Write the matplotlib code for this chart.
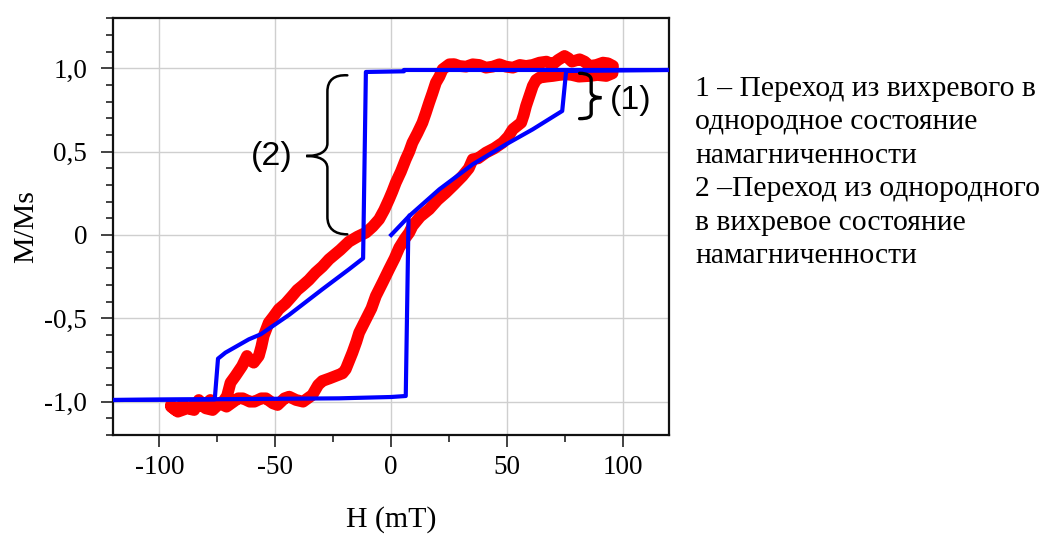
import matplotlib
matplotlib.use("Agg")
import matplotlib.pyplot as plt
from matplotlib.path import Path
from matplotlib.patches import PathPatch
from matplotlib.ticker import FixedLocator, FixedFormatter, MultipleLocator

# ---------------- data ----------------
# measured loop (red), ascending branch then descending branch
red_up_h = [-95, -92, -88, -85, -83, -80, -77, -74, -71, -69, -66, -64, -61, -59, -56, -54,
            -51, -49, -46, -44, -41, -38, -36, -34, -31.5, -29.7, -26.5, -23.9, -21, -19.6,
            -16.7, -15, -13.8, -10.9, -8.5, -6.6, -3.5, -0.9, 1.5, 3.5, 6, 7.8, 9.2, 12.5,
            16.4, 20, 23.6, 27, 30.8, 33.5, 35.2, 37.5, 40.9, 44.5, 48.1, 50.5, 52.5, 56.1,
            57.2, 58.2, 59.8, 61.1, 62.5, 64.0, 67, 69.7, 72.5, 75.5, 78, 81, 85.6, 89, 92.8, 95.5]
red_up_m = [-1.03, -1.06, -1.04, -1.05, -0.99, -1.04, -1.05, -1.01, -1.03, -1.01, -0.98, -0.98,
            -1.00, -1.00, -0.98, -0.98, -1.01, -1.02, -0.98, -0.97, -0.99, -1.00, -0.98, -0.96,
            -0.90, -0.876, -0.86, -0.846, -0.83, -0.806, -0.706, -0.64, -0.586, -0.506, -0.44,
            -0.366, -0.28, -0.206, -0.14, -0.076, -0.02, 0.014, 0.054, 0.11, 0.154, 0.21, 0.254,
            0.30, 0.354, 0.40, 0.454, 0.46, 0.494, 0.52, 0.554, 0.59, 0.634, 0.674, 0.72, 0.774,
            0.84, 0.894, 0.93, 0.944, 0.95, 0.954, 0.96, 0.964, 0.96, 0.95, 0.954, 0.96, 0.954, 0.97]
red_dn_h = [95.7, 93.5, 91.4, 88.5, 85.6, 83.5, 81.3, 78, 76.5, 74.8, 72, 69.7, 67, 64.0, 61,
            58.2, 55.5, 52.5, 49.5, 46.7, 43.8, 40.9, 38, 35.2, 32.3, 29.4, 27.2, 25.1, 22.2,
            20.8, 19.3, 17.8, 16.4, 14.9, 13.5, 11.3, 9.2, 7.8, 6.3, 4.2, 2.0, 0.5, -0.9, -3,
            -5.2, -8, -10.9, -14.5, -18.2, -22, -26.8, -29.7, -32.6, -35.5, -38.4, -40.5, -42.7,
            -45.5, -48.5, -50.8, -52.8, -55.0, -56, -57.1, -59.3, -61, -62.2, -64.3, -67.2,
            -69.3, -70.8, -72.5, -75, -78, -81, -84, -87, -90, -93, -95]
red_dn_m = [1.014, 1.03, 1.034, 1.02, 1.014, 1.04, 1.054, 1.04, 1.06, 1.074, 1.05, 1.024, 1.04,
            1.034, 1.02, 1.014, 1.02, 1.004, 1.01, 1.024, 1.01, 1.004, 1.02, 1.024, 1.01, 1.014,
            1.025, 1.024, 0.994, 0.95, 0.914, 0.85, 0.794, 0.73, 0.674, 0.61, 0.554, 0.50, 0.454,
            0.38, 0.314, 0.26, 0.214, 0.15, 0.094, 0.05, 0.014, -0.01, -0.04, -0.09, -0.146,
            -0.19, -0.226, -0.27, -0.306, -0.33, -0.366, -0.41, -0.446, -0.49, -0.526, -0.606,
            -0.67, -0.726, -0.766, -0.75, -0.726, -0.786, -0.846, -0.886, -0.966, -1.0, -1.02,
            -0.99, -1.03, -1.01, -1.04, -1.02, -1.05, -1.02]

# simulated loop (blue)
blue_dn_h = [120, 5.5, 5.5, -10.9, -12.1, -18.2, -29.7, -44.1, -56.3, -61.4, -71.5, -74.7, -76.1, -120]
blue_dn_m = [0.99, 0.99, 0.982, 0.978, -0.14, -0.206, -0.326, -0.48, -0.596, -0.626, -0.706, -0.742, -0.986, -0.99]
blue_up_h = [-120, -22.5, 0, 6.3, 7.5, 7.8, 20.8, 35.2, 49.6, 61.1, 73.8, 75.5, 120]
blue_up_m = [-0.99, -0.98, -0.972, -0.966, 0.105, 0.114, 0.274, 0.424, 0.544, 0.634, 0.744, 0.984, 0.99]
blue_init_h = [0, 7.8]
blue_init_m = [0, 0.114]

x_ticks = [-100, -50, 0, 50, 100]
x_labels = ['-100', '-50', '0', '50', '100']
y_ticks = [-1.0, -0.5, 0, 0.5, 1.0]
y_labels = ['-1,0', '-0,5', '0', '0,5', '1,0']

legend_lines = ['1 – Переход из вихревого в',
                'однородное состояние',
                'намагниченности',
                '2 –Переход из однородного',
                'в вихревое состояние',
                'намагниченности']

# ---------------- figure ----------------
W, H = 1053, 534
fig = plt.figure(figsize=(W / 100, H / 100), dpi=100)
L, R, T, B = 113, 669.3, 18.3, 435
ax = fig.add_axes([L / W, 1 - B / H, (R - L) / W, (B - T) / H])

serif = 'Liberation Serif'
sans = 'Liberation Sans'

ax.set_xlim(-120, 120)
ax.set_ylim(-1.2, 1.3)

ax.grid(True, which='major', color='#cfcfcf', lw=1.0, zorder=0)
ax.set_axisbelow(True)

ax.plot(red_up_h + red_dn_h, red_up_m + red_dn_m, color='#ff0000', lw=8.5,
        solid_joinstyle='round', solid_capstyle='round', zorder=2)
ax.plot(blue_dn_h, blue_dn_m, color='#0000ff', lw=3.0, zorder=3)
ax.plot(blue_up_h, blue_up_m, color='#0000ff', lw=3.0, zorder=3)
ax.plot(blue_init_h, blue_init_m, color='#0000ff', lw=3.0, zorder=3)

# ticks
ax.xaxis.set_major_locator(FixedLocator(x_ticks))
ax.xaxis.set_major_formatter(FixedFormatter(x_labels))
ax.yaxis.set_major_locator(FixedLocator(y_ticks))
ax.yaxis.set_major_formatter(FixedFormatter(y_labels))
ax.xaxis.set_minor_locator(MultipleLocator(25))
ax.yaxis.set_minor_locator(MultipleLocator(0.1))
ax.tick_params(which='major', direction='out', length=8.5, width=1.2, color='#222222',
               labelsize=19.5, pad=6)
ax.tick_params(axis='y', which='major', pad=10)
ax.tick_params(which='minor', direction='out', length=5, width=1.2, color='#222222')
for lab in ax.get_xticklabels() + ax.get_yticklabels():
    lab.set_fontfamily(serif)
for sp in ax.spines.values():
    sp.set_linewidth(1.6)
    sp.set_color('#111111')

ax.set_xlabel('H (mT)', fontfamily=serif, fontsize=21.5)
ax.xaxis.set_label_coords(0.5, (B - 526.7) / (B - T))
ax.xaxis.label.set_va('baseline')
ax.set_ylabel('M/Ms', fontfamily=serif, fontsize=21.5)
ax.yaxis.set_label_coords((33.3 - L) / (R - L), 0.5)
ax.yaxis.label.set_va('baseline')

# braces
def brace(verts, lw):
    codes = [Path.MOVETO, Path.CURVE4, Path.CURVE4, Path.CURVE4, Path.LINETO,
             Path.CURVE4, Path.CURVE4, Path.CURVE4, Path.CURVE4, Path.CURVE4, Path.CURVE4,
             Path.LINETO, Path.CURVE4, Path.CURVE4, Path.CURVE4]
    ax.add_patch(PathPatch(Path(verts, codes), fill=False, lw=lw, color='black',
                           capstyle='round', zorder=4))

# brace (2): opening "{"
brace([(-18.9, 0.958), (-24.5, 0.962), (-27.5, 0.93), (-27.5, 0.86),
       (-27.5, 0.55),
       (-27.5, 0.50), (-31, 0.474), (-36.6, 0.474),
       (-31, 0.474), (-27.5, 0.45), (-27.5, 0.40),
       (-27.5, 0.11),
       (-27.5, 0.04), (-24.5, 0.004), (-18.9, 0.004)], 1.8)
# brace (1): closing "}"
brace([(81.3, 0.970), (84.5, 0.970), (86.3, 0.955), (86.3, 0.93),
       (86.3, 0.86),
       (86.3, 0.835), (88, 0.824), (90.7, 0.824),
       (88, 0.824), (86.3, 0.813), (86.3, 0.79),
       (86.3, 0.73),
       (86.3, 0.705), (84.5, 0.698), (81.3, 0.698)], 2.4)

ax.text(-51.3, 0.47, '(2)', fontfamily=sans, fontsize=24.5, ha='center', va='center', zorder=5)
ax.text(103.2, 0.804, '(1)', fontfamily=sans, fontsize=24.5, ha='center', va='center', zorder=5)

# right-hand explanatory text
base0, step = 96.0, 33.4
for i, s in enumerate(legend_lines):
    fig.text(695 / W, 1 - (base0 + i * step) / H, s, fontfamily=serif, fontsize=21.3,
             ha='left', va='baseline')

fig.savefig('out.png', dpi=100)
